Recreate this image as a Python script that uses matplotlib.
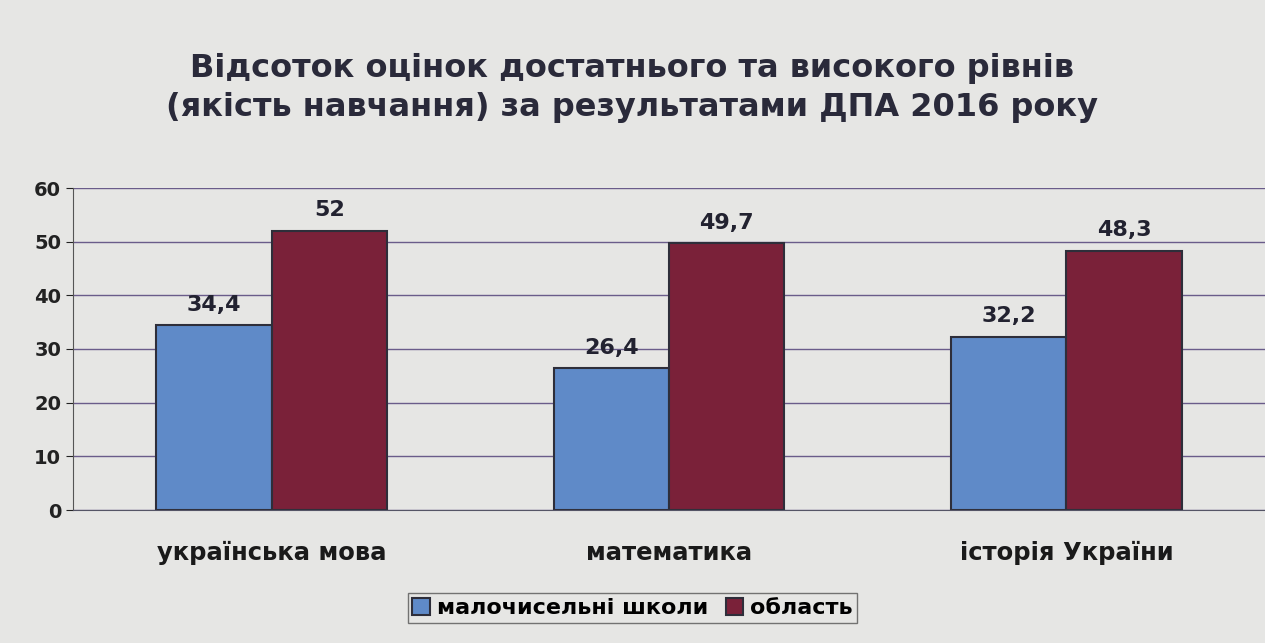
import matplotlib.pyplot as plt
import numpy as np

# data
categories = ["українська мова", "математика", "історія України"]
small_schools = [34.4, 26.4, 32.2]
region = [52, 49.7, 48.3]
series_names = ["малочисельні школи", "область"]
title = "Відсоток оцінок достатнього та високого рівнів\n(якість навчання) за результатами ДПА 2016 року"

plt.rcParams['font.family'] = ['DejaVu Sans']

fig = plt.figure(figsize=(12.65, 6.43), dpi=100, facecolor="#e6e6e4")
ax = fig.add_axes([73/1265, 1 - 510/643, (1265 - 73)/1265, 322/643])
ax.set_facecolor("#e6e6e4")

x = np.arange(len(categories))
w = 0.29
b1 = ax.bar(x - w/2, small_schools, w, color="#5f8ac8", edgecolor="#2e2e3a", linewidth=1.5, label=series_names[0])
b2 = ax.bar(x + w/2, region, w, color="#7a2139", edgecolor="#2e2e3a", linewidth=1.5, label=series_names[1])

for bars, vals in ((b1, small_schools), (b2, region)):
    for r, v in zip(bars, vals):
        lab = ("%g" % v).replace(".", ",")
        ax.text(r.get_x() + r.get_width()/2, v + 2.0, lab, ha="center", va="bottom",
                fontsize=16, fontweight="bold", color="#222230")

ax.set_xlim(-0.5, 2.5)
ax.set_ylim(0, 60)
ax.set_yticks(range(0, 61, 10))
ax.yaxis.grid(True, color="#6a5c8a", linewidth=1)
ax.set_axisbelow(True)
for s in ("top", "right"):
    ax.spines[s].set_visible(False)
ax.spines["left"].set_color("#555555")
ax.spines["bottom"].set_color("#555566")
ax.tick_params(axis="y", labelsize=14, colors="#222222", length=5)
for t in ax.get_yticklabels():
    t.set_fontweight("bold")
ax.set_xticks(x)
ax.set_xticklabels(categories, fontsize=17.5, fontweight="bold", color="#1a1a1a")
ax.tick_params(axis="x", length=0, pad=22)

fig.text(0.5, 1 - 88/643, title, ha="center", va="center", fontsize=23,
         fontweight="bold", color="#2a2a3a", linespacing=1.35)

leg = fig.legend(loc="center", bbox_to_anchor=(0.5, 1 - 608/643), ncol=2,
                 prop={"size": 16, "weight": "bold"}, frameon=True, fancybox=False,
                 edgecolor="#555555", facecolor="#e6e6e4", handlelength=0.8,
                 handleheight=0.8, handletextpad=0.3, columnspacing=0.8,
                 borderpad=0.2)

fig.savefig("out.png", dpi=100, facecolor=fig.get_facecolor())
